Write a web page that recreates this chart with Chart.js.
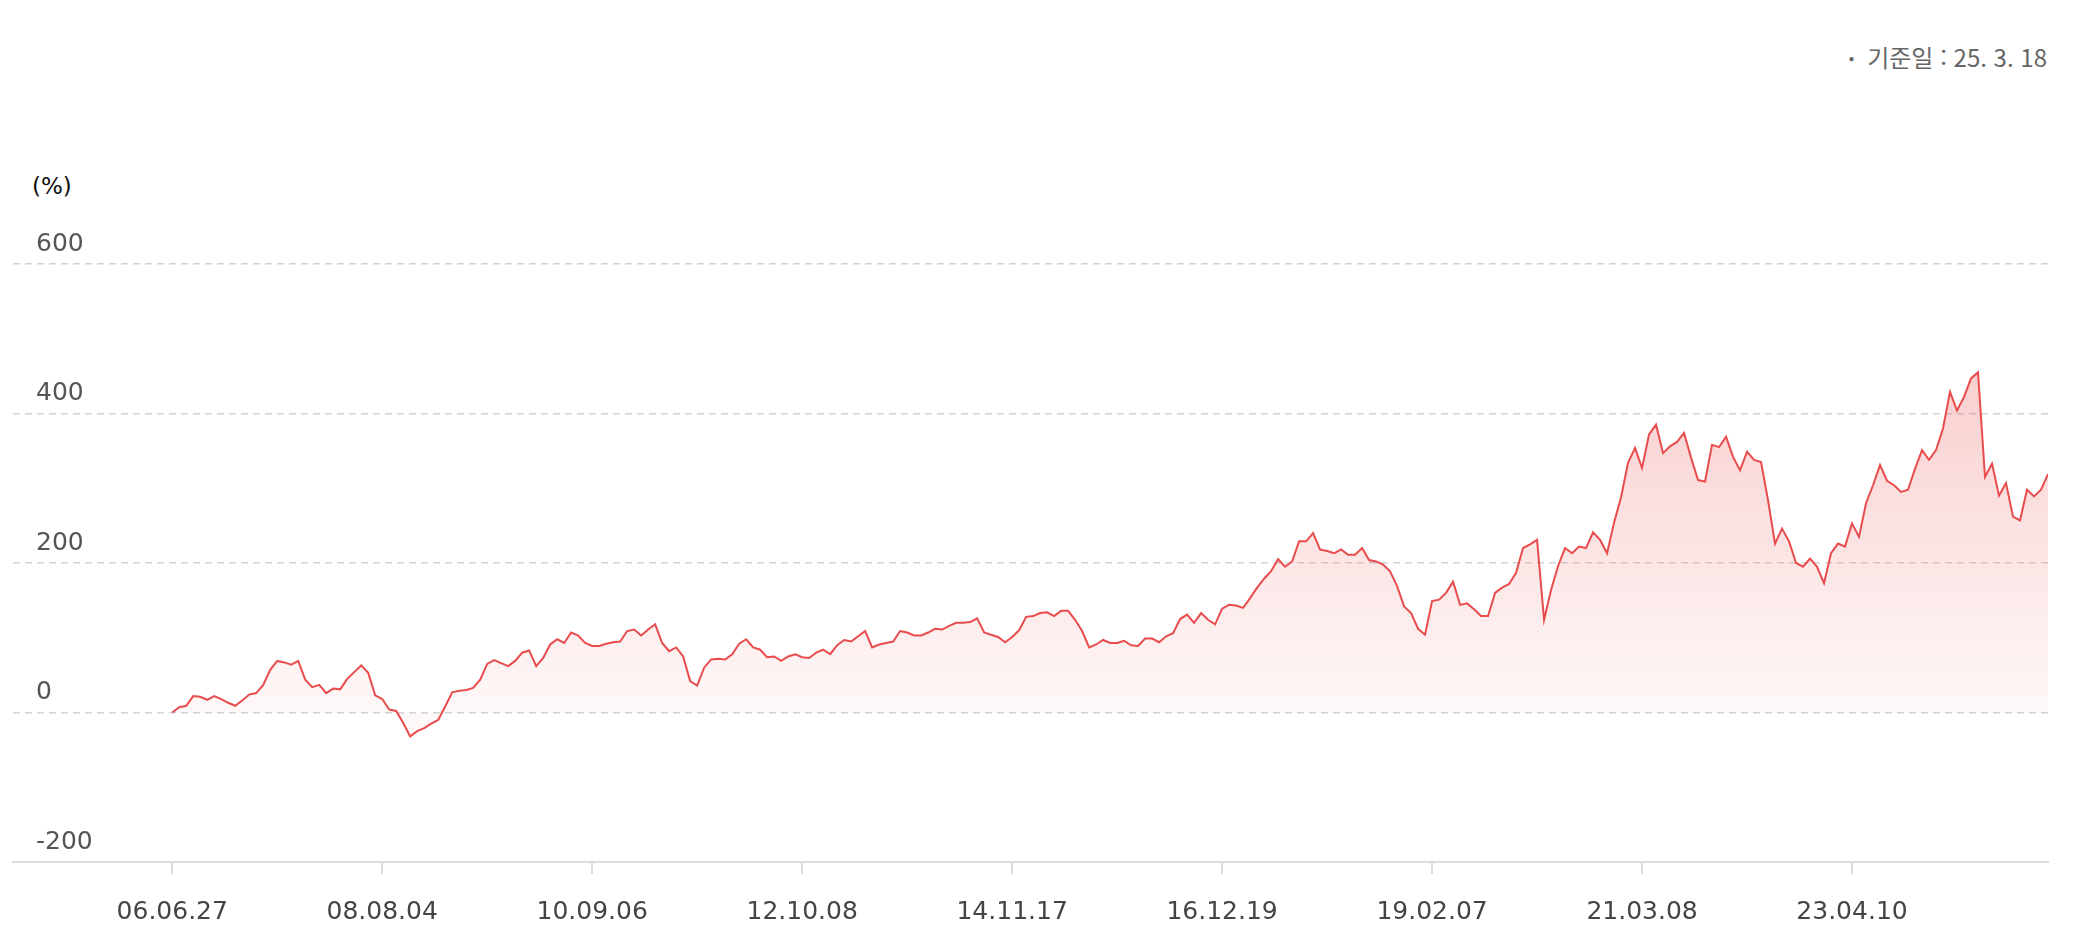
<!DOCTYPE html>
<html lang="ko">
<head>
<meta charset="utf-8">
<title>수익률 추이</title>
<script src="https://cdn.jsdelivr.net/npm/chart.js@4"></script>
<style>
    html, body { margin: 0; padding: 0; background: #fff; }
    body { width: 2074px; height: 944px; position: relative; overflow: hidden; font-family: "DejaVu Sans", "Noto Sans CJK KR", sans-serif; }
    #chart { position: absolute; left: 0; top: 0; }
    .base-date { position: absolute; right: 27px; top: 42px; line-height: 30px; font-size: 24px; color: #666; font-family: "Noto Sans CJK KR", sans-serif; }
    .base-date .dot { font-size: 16px; vertical-align: 3px; margin-right: 13px; }
    .unit { position: absolute; left: 32px; top: 171px; line-height: 30px; font-size: 23px; color: #111; }
</style>
</head>
<body>
<div class="base-date"><span class="dot">•</span>기준일 : 25. 3. 18</div>
<div class="unit">(%)</div>
<canvas id="chart" width="2074" height="944"></canvas>
<script>
const tickDates = ["06.06.27", "08.08.04", "10.09.06", "12.10.08", "14.11.17", "16.12.19", "19.02.07", "21.03.08", "23.04.10"];
const POINTS_PER_TICK = 30;
const yTicks = [-200, 0, 200, 400, 600];

// cumulative return (%)
const returns = [
    0, 7, 9, 22, 21, 17, 22, 18, 13, 9,
    16, 24, 26, 37, 57, 69, 67, 64, 69, 44,
    34, 37, 26, 32, 31, 45, 54, 63, 53, 23,
    18, 4, 2, -14, -32, -25, -21, -15, -10, 8,
    27, 29, 30, 33, 44, 65, 70, 66, 62, 69,
    80, 83, 62, 73, 91, 98, 93, 107, 103, 93,
    89, 89, 92, 94, 95, 109, 111, 103, 111, 118,
    93, 82, 87, 75, 42, 36, 60, 71, 72, 71,
    78, 92, 98, 87, 84, 74, 75, 69, 75, 78,
    74, 73, 80, 84, 78, 90, 97, 95, 102, 109,
    87, 91, 93, 95, 109, 107, 103, 103, 107, 112,
    111, 116, 120, 120, 121, 126, 107, 104, 101, 94,
    101, 110, 128, 129, 133, 134, 129, 136, 136, 124,
    109, 87, 91, 97, 93, 93, 96, 90, 89, 99,
    99, 94, 102, 106, 125, 131, 120, 133, 124, 118,
    139, 144, 143, 140, 153, 167, 179, 189, 205, 195,
    202, 229, 229, 240, 218, 216, 213, 218, 211, 211,
    220, 204, 202, 198, 189, 169, 142, 133, 112, 104,
    149, 151, 160, 175, 144, 146, 138, 129, 129, 160,
    167, 172, 187, 220, 225, 231, 124, 164, 196, 220,
    213, 222, 220, 241, 231, 213, 254, 288, 334, 354,
    327, 372, 385, 347, 356, 362, 374, 341, 311, 309,
    358, 355, 369, 342, 324, 349, 338, 335, 284, 226,
    246, 229, 200, 195, 206, 195, 173, 213, 226, 222,
    253, 235, 280, 304, 331, 310, 304, 295, 298, 326,
    351, 338, 351, 380, 429, 404, 422, 447, 455, 315,
    333, 290, 307, 262, 257, 298, 289, 298, 319
];

Chart.defaults.font.family = '"DejaVu Sans", "Noto Sans CJK KR", sans-serif';

function fillGradient(context) {
    const chart = context.chart;
    const area = chart.chartArea;
    if (!area) return null;
    const y0 = chart.scales.y.getPixelForValue(0);
    const g = chart.ctx.createLinearGradient(0, area.top, 0, y0);
    g.addColorStop(0, "rgba(232,76,76,0.34)");
    g.addColorStop(1, "rgba(232,76,76,0.04)");
    return g;
}

new Chart(document.getElementById("chart"), {
    type: "line",
    data: {
        datasets: [
            {
                data: returns.map((v, i) => ({ x: i, y: v })),
                borderColor: "#e84c4c",
                borderWidth: 2,
                pointRadius: 0,
                tension: 0,
                fill: "origin",
                backgroundColor: fillGradient,
            },
        ],
    },
    options: {
        responsive: false,
        animation: false,
        layout: { padding: { left: 13, right: 26, top: 264, bottom: 0 } },
        plugins: { legend: { display: false }, tooltip: { enabled: false } },
        scales: {
            x: {
                type: "linear",
                min: -22.75,
                max: returns.length - 1,
                afterBuildTicks: (axis) => {
                    axis.ticks = tickDates.map((_, k) => ({ value: k * POINTS_PER_TICK }));
                },
                afterFit: (axis) => {
                    axis.height = 82;
                },
                ticks: {
                    autoSkip: false,
                    maxRotation: 0,
                    padding: 23,
                    color: "#444",
                    font: { size: 25 },
                    callback: (v) => tickDates[Math.round(v / POINTS_PER_TICK)] || "",
                },
                grid: { drawOnChartArea: false, drawTicks: true, tickLength: 12, color: "#dcdce0", lineWidth: 2 },
                border: { display: true, color: "#dcdce0", width: 2 },
            },
            y: {
                min: -200,
                max: 600,
                afterBuildTicks: (axis) => {
                    axis.ticks = yTicks.map((v) => ({ value: v }));
                },
                afterFit: (axis) => {
                    axis.width = 0;
                },
                ticks: { mirror: true, padding: 23, labelOffset: -20, color: "#555", font: { size: 25 } },
                grid: {
                    drawTicks: false,
                    lineWidth: 1.5,
                    color: (ctx) => (ctx.tick && ctx.tick.value === -200 ? "rgba(0,0,0,0)" : "#d4d4d8"),
                },
                border: { display: false, dash: [7, 5] },
            },
        },
    },
});
</script>
</body>
</html>
